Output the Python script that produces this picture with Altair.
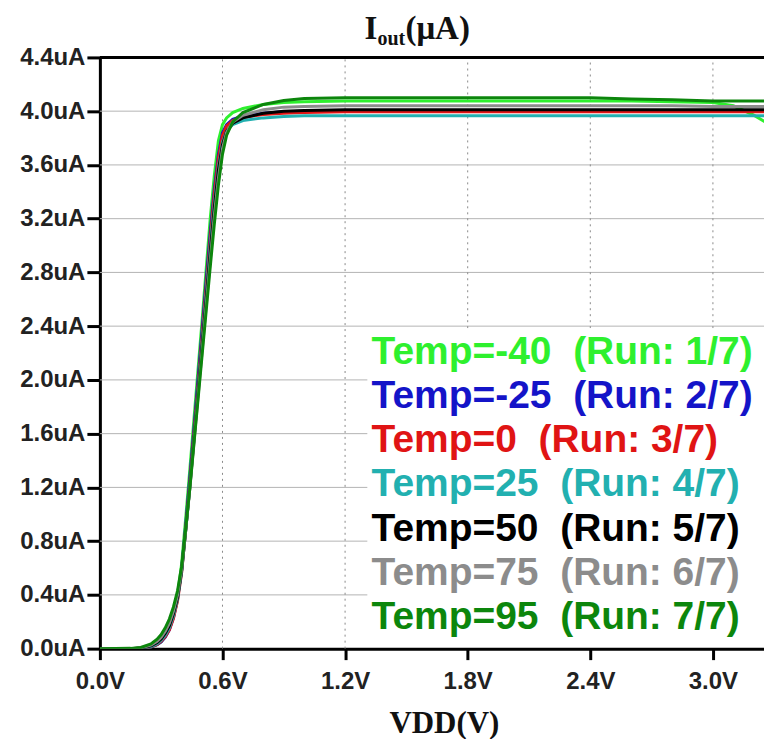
import altair as alt
import pandas as pd

# ---- data ----
vdd = [0.00, 0.15, 0.20, 0.25, 0.28, 0.30, 0.32, 0.34, 0.36, 0.38,
       0.40, 0.42, 0.44, 0.46, 0.48, 0.50, 0.52, 0.54, 0.56, 0.58,
       0.60, 0.62, 0.65, 0.70, 0.80, 0.90, 1.00, 1.20, 1.50, 1.80,
       2.10, 2.40, 2.60, 2.80, 3.00, 3.10, 3.20, 3.30]

i_m40 = [0.000, 0.000, 0.002, 0.012, 0.030, 0.050, 0.090, 0.150, 0.250, 0.400,
         0.630, 0.970, 1.330, 1.700, 2.070, 2.440, 2.820, 3.200, 3.520, 3.780,
         3.900, 3.950, 3.990, 4.020, 4.050, 4.065, 4.070, 4.075, 4.075, 4.075,
         4.075, 4.075, 4.075, 4.070, 4.065, 4.040, 3.970, 3.880]
i_m25 = [0.000, 0.000, 0.002, 0.012, 0.030, 0.050, 0.085, 0.140, 0.230, 0.370,
         0.590, 0.920, 1.270, 1.630, 2.000, 2.370, 2.740, 3.100, 3.420, 3.680,
         3.840, 3.900, 3.940, 3.965, 3.985, 3.995, 4.000, 4.000, 4.000, 4.000,
         4.000, 4.000, 4.000, 4.000, 4.000, 4.000, 4.000, 4.000]
i_0 = [0.000, 0.000, 0.002, 0.013, 0.032, 0.055, 0.090, 0.140, 0.225, 0.355,
       0.565, 0.890, 1.230, 1.590, 1.950, 2.320, 2.690, 3.050, 3.380, 3.650,
       3.820, 3.890, 3.930, 3.955, 3.975, 3.985, 3.990, 3.995, 3.995, 3.995,
       3.995, 3.995, 3.995, 3.995, 3.995, 3.995, 3.995, 3.995]
i_25 = [0.000, 0.000, 0.003, 0.016, 0.037, 0.062, 0.100, 0.155, 0.245, 0.370,
        0.570, 0.880, 1.210, 1.560, 1.920, 2.280, 2.640, 3.000, 3.320, 3.590,
        3.770, 3.850, 3.900, 3.930, 3.950, 3.960, 3.965, 3.965, 3.965, 3.965,
        3.965, 3.965, 3.965, 3.965, 3.965, 3.965, 3.965, 3.965]
i_50 = [0.000, 0.000, 0.004, 0.020, 0.045, 0.072, 0.115, 0.170, 0.260, 0.380,
        0.580, 0.880, 1.200, 1.550, 1.900, 2.250, 2.600, 2.950, 3.280, 3.560,
        3.750, 3.850, 3.910, 3.950, 3.985, 4.000, 4.005, 4.010, 4.010, 4.010,
        4.010, 4.010, 4.010, 4.010, 4.010, 4.010, 4.010, 4.010]
i_75 = [0.000, 0.000, 0.006, 0.026, 0.055, 0.085, 0.130, 0.190, 0.280, 0.400,
        0.590, 0.880, 1.190, 1.530, 1.870, 2.210, 2.550, 2.890, 3.220, 3.500,
        3.720, 3.840, 3.920, 3.970, 4.010, 4.030, 4.035, 4.040, 4.040, 4.040,
        4.040, 4.040, 4.040, 4.040, 4.035, 4.035, 4.035, 4.035]
i_95 = [0.000, 0.002, 0.009, 0.035, 0.070, 0.105, 0.155, 0.220, 0.310, 0.430,
        0.610, 0.890, 1.190, 1.520, 1.850, 2.180, 2.510, 2.840, 3.160, 3.450,
        3.680, 3.820, 3.920, 3.990, 4.050, 4.080, 4.095, 4.100, 4.100, 4.100,
        4.100, 4.100, 4.090, 4.085, 4.075, 4.075, 4.075, 4.075]

series_values = [i_m40, i_m25, i_0, i_25, i_50, i_75, i_95]
run_keys = ["Run 1", "Run 2", "Run 3", "Run 4", "Run 5", "Run 6", "Run 7"]
legend_labels = ["Temp=-40 \u00a0(Run: 1/7)", "Temp=-25 \u00a0(Run: 2/7)",
                 "Temp=0 \u00a0(Run: 3/7)", "Temp=25 \u00a0(Run: 4/7)",
                 "Temp=50 \u00a0(Run: 5/7)", "Temp=75 \u00a0(Run: 6/7)",
                 "Temp=95 \u00a0(Run: 7/7)"]
colors = ["#2ef02e", "#1414c8", "#e01414", "#22b0b0", "#000000", "#8c8c8c", "#0c860c"]

x_ticks = [0.0, 0.6, 1.2, 1.8, 2.4, 3.0]
y_ticks = [0.0, 0.4, 0.8, 1.2, 1.6, 2.0, 2.4, 2.8, 3.2, 3.6, 4.0, 4.4]

# legend box bounds (VDD left, Iout top)
BOX_LEFT = 1.31
BOX_TOP = 2.385
X_MAX = 3.25
Y_MAX = 4.4

box = pd.DataFrame({"bx1": [BOX_LEFT], "bx2": [X_MAX], "by1": [0.015], "by2": [BOX_TOP]})

rows = []
for key, ys in zip(run_keys, series_values):
    for v, i in zip(vdd, ys):
        rows.append({"run": key, "vdd": v, "iout": i})
df = pd.DataFrame(rows)

# grid lines stop at the legend box
grid_y = pd.DataFrame([{"gy": gy, "s": 0.0, "e": (X_MAX if gy > BOX_TOP else BOX_LEFT)}
                       for gy in y_ticks[1:-1]])
grid_x = pd.DataFrame([{"gx": gx, "a": (BOX_TOP if gx > BOX_LEFT else 0.0), "b": Y_MAX}
                       for gx in x_ticks[1:]])

xscale = alt.Scale(domain=[0, X_MAX], nice=False, zero=False)
yscale = alt.Scale(domain=[0, Y_MAX], nice=False)

label_font = "Liberation Sans"

x_axis = alt.Axis(values=x_ticks, labelExpr="format(datum.value, '.1f') + 'V'",
                  title=None, grid=False, domainColor="#000", domainWidth=3,
                  tickColor="#000", tickWidth=3, tickSize=11, labelPadding=10,
                  labelFont=label_font, labelFontWeight="bold", labelFontSize=24,
                  labelColor="#222", labelFlush=False, labelOverlap=False)
y_axis = alt.Axis(values=y_ticks, labelExpr="format(datum.value, '.1f') + 'uA'",
                  title=None, grid=False, domainColor="#000", domainWidth=3,
                  tickColor="#000", tickWidth=3, tickSize=13, labelPadding=2,
                  labelFont=label_font, labelFontWeight="bold", labelFontSize=24,
                  labelColor="#222", labelFlush=False, labelOverlap=False)

hgrid = alt.Chart(grid_y).mark_rule(color="#b4b4b4", strokeWidth=1).encode(
    y=alt.Y("gy:Q", scale=yscale, axis=y_axis),
    x=alt.X("s:Q", scale=xscale, axis=x_axis), x2="e:Q")
vgrid = alt.Chart(grid_x).mark_rule(
    color="#8a8a8a", strokeWidth=1, strokeDash=[2, 4]).encode(
    x=alt.X("gx:Q", scale=xscale, axis=x_axis),
    y=alt.Y("a:Q", scale=yscale, axis=y_axis), y2="b:Q")

lines = alt.Chart(df).mark_line(strokeWidth=3, clip=True).encode(
    x=alt.X("vdd:Q", scale=xscale, axis=x_axis),
    y=alt.Y("iout:Q", scale=yscale, axis=y_axis),
    color=alt.Color("run:N", scale=alt.Scale(domain=run_keys, range=colors), legend=None),
    order=alt.Order("vdd:Q"),
)

bg = alt.Chart(box).mark_rect(color="#ffffff", fill="#ffffff", fillOpacity=1, opacity=1).encode(
    x=alt.X("bx1:Q", scale=xscale, axis=x_axis), x2="bx2:Q",
    y=alt.Y("by1:Q", scale=yscale, axis=y_axis), y2="by2:Q",
)

top = alt.Chart(pd.DataFrame({"v": [Y_MAX]})).mark_rule(color="#000", strokeWidth=3).encode(
    y=alt.Y("v:Q", scale=yscale, axis=y_axis)
)

dummy = pd.DataFrame({"t": [0]})
layers = [hgrid, vgrid, lines, bg, top]

for k, (lab, col) in enumerate(zip(legend_labels, colors)):
    layers.append(
        alt.Chart(dummy).mark_text(text=lab, font=label_font, fontWeight="bold",
                                   fontSize=39, color=col, align="left",
                                   baseline="alphabetic").encode(
            x=alt.value(272), y=alt.value(307 + 44.2 * k))
    )

serif = "Liberation Serif"
layers.append(alt.Chart(dummy).mark_text(text="I", font=serif, fontWeight="bold", fontSize=33,
                                         align="left", baseline="alphabetic", color="#111").encode(
    x=alt.value(265), y=alt.value(-18)))
layers.append(alt.Chart(dummy).mark_text(text="out", font=serif, fontWeight="bold", fontSize=20,
                                         align="left", baseline="alphabetic", color="#111").encode(
    x=alt.value(278), y=alt.value(-12)))
layers.append(alt.Chart(dummy).mark_text(text="(\u03bcA)", font=serif, fontWeight="bold", fontSize=33,
                                         align="left", baseline="alphabetic", color="#111").encode(
    x=alt.value(306), y=alt.value(-18)))
layers.append(alt.Chart(dummy).mark_text(text="VDD(V)", font=serif, fontWeight="bold", fontSize=31,
                                         align="center", baseline="alphabetic", color="#111").encode(
    x=alt.value(345), y=alt.value(676)))

chart = alt.layer(*layers).properties(
    width=665, height=592,
    padding={"left": 92, "top": 49, "right": 0, "bottom": 90},
    autosize=alt.AutoSizeParams(type="none"),
).configure_view(strokeWidth=0)

chart.save("out.html", embed_options={"renderer": "svg", "actions": False})
